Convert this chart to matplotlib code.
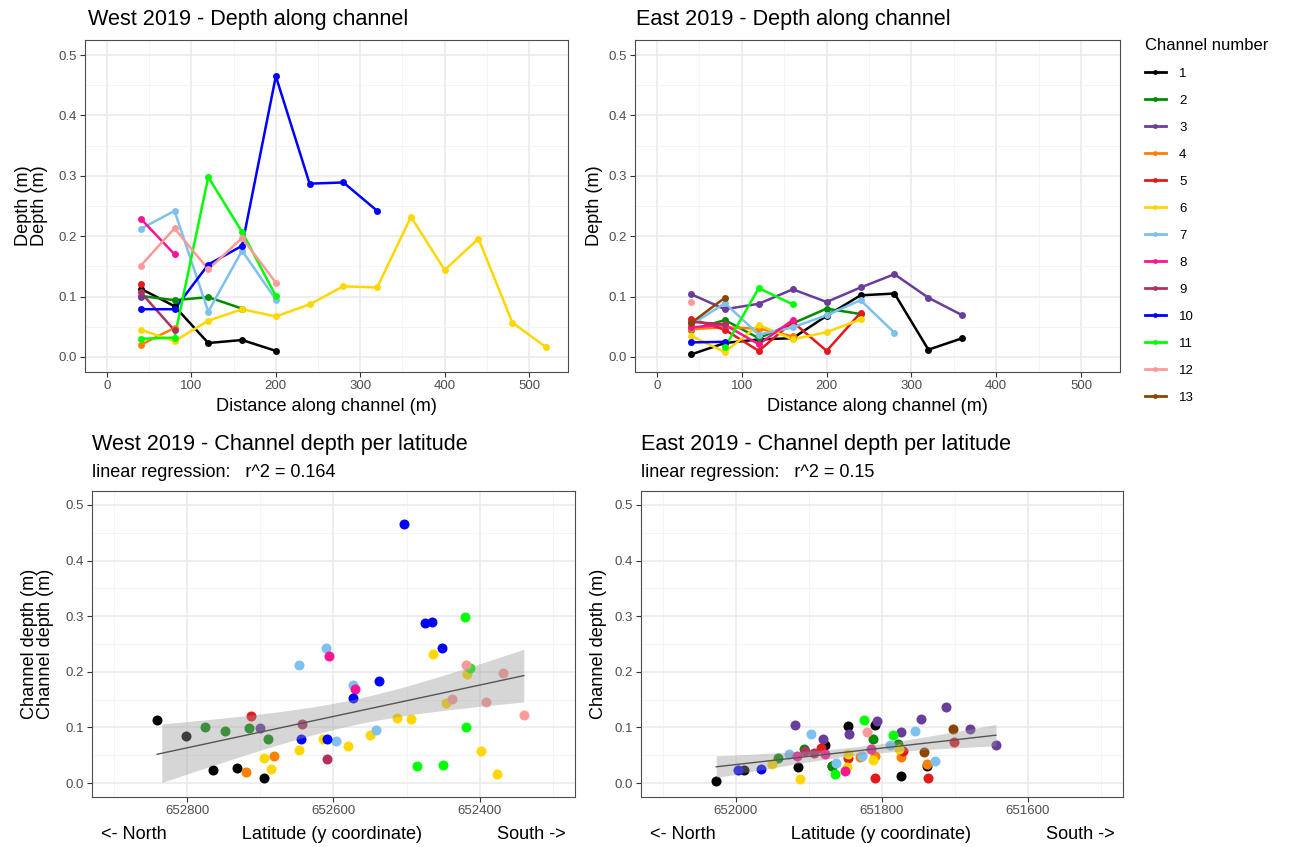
import numpy as np
import matplotlib.pyplot as plt
from matplotlib.lines import Line2D
from matplotlib.ticker import FixedLocator

plt.rcParams['font.family'] = ['Liberation Sans', 'DejaVu Sans']

# channel colours (same palette for both sites)
channels = list(range(1, 14))
colors = {1: '#000000', 2: '#008B00', 3: '#6A3D9A', 4: '#FF7F00', 5: '#E31A1C',
          6: '#FFD700', 7: '#7EC0EE', 8: '#FF1493', 9: '#B03060', 10: '#0000FF',
          11: '#00FF00', 12: '#FB9A99', 13: '#8B4500'}

# ---- West 2019 ----
west_dist = {
    1: [40, 80, 120, 160, 200],
    2: [40, 80, 120, 160],
    3: [40],
    4: [40, 80],
    5: [40],
    6: [40, 80, 120, 160, 200, 240, 280, 320, 360, 400, 440, 480, 520],
    7: [40, 80, 120, 160, 200],
    8: [40, 80],
    9: [40, 80],
    10: [40, 80, 120, 160, 200, 240, 280, 320],
    11: [40, 80, 120, 160, 200],
    12: [40, 80, 120, 160, 200],
}
west_depth = {
    1: [0.113, 0.084, 0.023, 0.028, 0.010],
    2: [0.101, 0.094, 0.099, 0.080],
    3: [0.099],
    4: [0.020, 0.048],
    5: [0.120],
    6: [0.045, 0.026, 0.060, 0.079, 0.067, 0.087, 0.117, 0.115, 0.232, 0.144, 0.196, 0.057, 0.016],
    7: [0.212, 0.242, 0.075, 0.176, 0.095],
    8: [0.229, 0.170],
    9: [0.107, 0.044],
    10: [0.079, 0.079, 0.153, 0.184, 0.465, 0.287, 0.289, 0.242],
    11: [0.030, 0.032, 0.298, 0.207, 0.101],
    12: [0.151, 0.213, 0.145, 0.197, 0.123],
}
west_lat = {
    1: [652841, 652802, 652764, 652732, 652695],
    2: [652776, 652748, 652715, 652689],
    3: [652700],
    4: [652719, 652681],
    5: [652713],
    6: [652695, 652685, 652647, 652614, 652580, 652550, 652513, 652494, 652464, 652446, 652418, 652399, 652377],
    7: [652647, 652610, 652596, 652573, 652542],
    8: [652606, 652571],
    9: [652643, 652609],
    10: [652645, 652609, 652573, 652538, 652503, 652475, 652465, 652452],
    11: [652486, 652450, 652420, 652414, 652419],
    12: [652438, 652419, 652391, 652369, 652340],
}

# ---- East 2019 ----
east_dist = {
    1: [40, 80, 120, 160, 200, 240, 280, 320, 360],
    2: [40, 80, 120, 200, 240],
    3: [40, 80, 120, 160, 200, 240, 280, 320, 360],
    4: [40, 80, 120, 160],
    5: [40, 80, 120, 160, 200, 240],
    6: [40, 80, 120, 160, 200, 240],
    7: [40, 80, 120, 160, 200, 240, 280],
    8: [40, 80, 120, 160],
    9: [40, 80],
    10: [40, 80],
    11: [80, 120, 160],
    12: [40],
    13: [40, 80],
}
east_depth = {
    1: [0.004, 0.023, 0.029, 0.031, 0.068, 0.102, 0.105, 0.012, 0.031],
    2: [0.045, 0.061, 0.031, 0.080, 0.071],
    3: [0.104, 0.079, 0.088, 0.112, 0.091, 0.115, 0.137, 0.098, 0.069],
    4: [0.046, 0.049, 0.047, 0.034],
    5: [0.063, 0.045, 0.010, 0.058, 0.010, 0.073],
    6: [0.035, 0.008, 0.053, 0.029, 0.041, 0.062],
    7: [0.053, 0.089, 0.037, 0.049, 0.069, 0.094, 0.040],
    8: [0.049, 0.053, 0.021, 0.061],
    9: [0.058, 0.054],
    10: [0.024, 0.025],
    11: [0.016, 0.114, 0.087],
    12: [0.091],
    13: [0.056, 0.098],
}
east_lat = {
    1: [652027, 651989, 651915, 651869, 651878, 651847, 651810, 651774, 651738],
    2: [651943, 651907, 651869, 651812, 651778],
    3: [651919, 651881, 651845, 651807, 651774, 651747, 651713, 651680, 651644],
    4: [651830, 651810, 651774, 651739],
    5: [651883, 651847, 651809, 651771, 651737, 651702],
    6: [651950, 651912, 651847, 651848, 651813, 651777],
    7: [651927, 651897, 651863, 651828, 651789, 651755, 651727],
    8: [651916, 651878, 651851, 651815],
    9: [651905, 651893],
    10: [651997, 651966],
    11: [651864, 651825, 651785],
    12: [651820],
    13: [651742, 651703],
}

W, H = 1289, 847
fig = plt.figure(figsize=(W / 100, H / 100), dpi=100)

TITLE = 15.6
AXTITLE = 13.1
TICK = 9.5


def box(l, t, r, b):
    return [l / W, 1 - b / H, (r - l) / W, (b - t) / H]


def fx(x):
    return x / W


def fy(y):
    return 1 - y / H


def bw_style(ax):
    ax.set_facecolor('white')
    for s in ax.spines.values():
        s.set_color('#4d4d4d')
        s.set_linewidth(0.8)
    ax.grid(True, which='major', color='#EBEBEB', lw=1.2)
    ax.grid(True, which='minor', color='#F2F2F2', lw=0.6)
    ax.set_axisbelow(True)
    ax.tick_params(which='major', length=3.5, width=0.8, color='#333333',
                   labelsize=TICK, labelcolor='#4d4d4d', pad=2.5)
    ax.tick_params(which='minor', length=0)
    ax.set_ylim(-0.025, 0.525)
    ax.yaxis.set_major_locator(FixedLocator([0, 0.1, 0.2, 0.3, 0.4, 0.5]))
    ax.yaxis.set_minor_locator(FixedLocator([0.05, 0.15, 0.25, 0.35, 0.45]))
    ax.set_yticklabels(['0.0', '0.1', '0.2', '0.3', '0.4', '0.5'])


def depth_panel(ax, dist, depth):
    bw_style(ax)
    for ch in channels:
        if ch in dist:
            ax.plot(dist[ch], depth[ch], color=colors[ch], lw=1.8, zorder=3)
    for ch in channels:
        if ch in dist:
            ax.plot(dist[ch], depth[ch], 'o', color=colors[ch], ms=5, mew=0, zorder=4)
    ax.set_xlim(-26, 546)
    ax.xaxis.set_major_locator(FixedLocator([0, 100, 200, 300, 400, 500]))
    ax.xaxis.set_minor_locator(FixedLocator([50, 150, 250, 350, 450]))
    ax.set_xlabel('Distance along channel (m)', fontsize=AXTITLE, labelpad=4)


def t975(df):
    z = 1.959964
    return z + (z ** 3 + z) / (4 * df) + (5 * z ** 5 + 16 * z ** 3 + 3 * z) / (96 * df ** 2)


def lat_panel(ax, lat, depth, xlim, major, minor):
    bw_style(ax)
    xs_all, ys_all = [], []
    for ch in channels:
        if ch in lat:
            ax.scatter(lat[ch], depth[ch], s=52, color=colors[ch], linewidths=0, zorder=3)
            xs_all += lat[ch]
            ys_all += depth[ch]
    x = np.array(xs_all, float)
    y = np.array(ys_all, float)
    n = len(x)
    b, a = np.polyfit(x, y, 1)
    resid = y - (a + b * x)
    s = np.sqrt(np.sum(resid ** 2) / (n - 2))
    xg = np.linspace(x.min(), x.max(), 80)
    fit = a + b * xg
    se = s * np.sqrt(1 / n + (xg - x.mean()) ** 2 / np.sum((x - x.mean()) ** 2))
    lo = fit - t975(n - 2) * se
    hi = fit + t975(n - 2) * se
    ok = (lo >= 0) & (hi <= 0.5)
    ax.fill_between(xg, lo, hi, where=ok, color='#999999', alpha=0.4, lw=0, zorder=5)
    ax.plot(xg, fit, color='#555555', lw=1.0, zorder=6)
    ax.set_xlim(*xlim)
    ax.xaxis.set_major_locator(FixedLocator(major))
    ax.xaxis.set_minor_locator(FixedLocator(minor))
    ax.set_xlabel('<- North' + ' ' * 15 + 'Latitude (y coordinate)' + ' ' * 15 + 'South ->',
                  fontsize=AXTITLE, labelpad=6)


ax1 = fig.add_axes(box(85, 40, 568, 372))
depth_panel(ax1, west_dist, west_depth)
ax1.set_ylabel('Depth (m)\nDepth (m)', fontsize=AXTITLE, labelpad=7, linespacing=0.95)

ax2 = fig.add_axes(box(635, 40, 1120, 372))
depth_panel(ax2, east_dist, east_depth)
ax2.set_ylabel('Depth (m)', fontsize=AXTITLE, labelpad=4)

ax3 = fig.add_axes(box(92, 491, 575, 797))
lat_panel(ax3, west_lat, west_depth, (652930, 652270),
          [652800, 652600, 652400], [652900, 652700, 652500, 652300])
ax3.set_ylabel('Channel depth (m)\nChannel depth (m)', fontsize=AXTITLE, labelpad=8,
               linespacing=0.95)

ax4 = fig.add_axes(box(641, 491, 1123, 797))
lat_panel(ax4, east_lat, east_depth, (652130, 651470),
          [652000, 651800, 651600], [652100, 651900, 651700, 651500])
ax4.set_ylabel('Channel depth (m)', fontsize=AXTITLE, labelpad=5)

# titles and subtitles
fig.text(fx(88), fy(19), 'West 2019 - Depth along channel', fontsize=TITLE, va='center')
fig.text(fx(636), fy(19), 'East 2019 - Depth along channel', fontsize=TITLE, va='center')
fig.text(fx(92), fy(444), 'West 2019 - Channel depth per latitude', fontsize=TITLE, va='center')
fig.text(fx(641), fy(444), 'East 2019 - Channel depth per latitude', fontsize=TITLE, va='center')
fig.text(fx(92), fy(472), 'linear regression:   r^2 = 0.164', fontsize=13, va='center')
fig.text(fx(641), fy(472), 'linear regression:   r^2 = 0.15', fontsize=13, va='center')

handles = [Line2D([], [], color=colors[ch], lw=2, marker='o', ms=3.5, mew=0) for ch in channels]
fig.legend(handles, [str(ch) for ch in channels], title='Channel number',
           loc='upper left', bbox_to_anchor=(fx(1133), fy(26)), frameon=False,
           fontsize=9.5, title_fontsize=12, handlelength=1.6, handletextpad=1.0,
           labelspacing=1.12, alignment='left')

fig.savefig('out.png', dpi=100)
